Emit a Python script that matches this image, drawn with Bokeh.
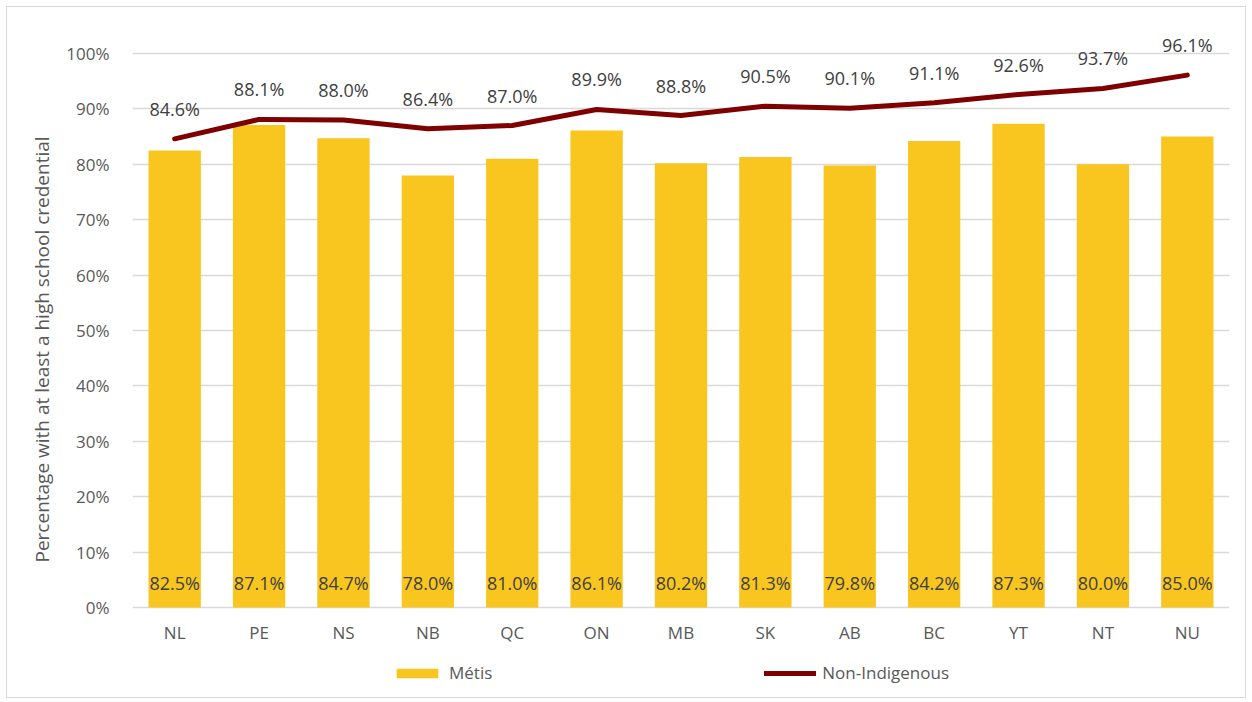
from bokeh.plotting import figure
from bokeh.models import (FactorRange, Range1d, ColumnDataSource, NumeralTickFormatter,
                          FixedTicker, Legend, LegendItem, Title)
from bokeh.core.properties import value
from bokeh.embed import file_html
from bokeh.resources import INLINE

provinces = ["NL", "PE", "NS", "NB", "QC", "ON", "MB", "SK", "AB", "BC", "YT", "NT", "NU"]
metis = [82.5, 87.1, 84.7, 78.0, 81.0, 86.1, 80.2, 81.3, 79.8, 84.2, 87.3, 80.0, 85.0]
non_indigenous = [84.6, 88.1, 88.0, 86.4, 87.0, 89.9, 88.8, 90.5, 90.1, 91.1, 92.6, 93.7, 96.1]
y_ticks = [0, 0.1, 0.2, 0.3, 0.4, 0.5, 0.6, 0.7, 0.8, 0.9, 1.0]
y_title = "Percentage with at least a high school credential"

FONT = "Open Sans"
BAR = "#F9C51F"
LINE = "#7F0000"
TXT = "#595959"
LBL = "#404040"

src = ColumnDataSource(dict(
    prov=provinces,
    m=[v / 100 for v in metis],
    n=[v / 100 for v in non_indigenous],
    m_lbl=[f"{v:.1f}%" for v in metis],
    n_lbl=[f"{v:.1f}%" for v in non_indigenous],
    zero=[0] * len(provinces),
))

p = figure(width=1240, height=692, x_range=FactorRange(*provinces), y_range=Range1d(-0.1625, 1.0596),
           output_backend="svg", toolbar_location=None,
           min_border_left=125, min_border_right=18, min_border_top=13, min_border_bottom=2)
p.styles = {"border": "1px solid #d9d9d9", "box-sizing": "border-box", "margin": "6px"}
p.outline_line_color = None
p.background_fill_color = "white"

bars = p.vbar(x="prov", top="m", width=0.62, source=src, fill_color=BAR, line_color=None)
line = p.line(x="prov", y="n", source=src, line_color=LINE, line_width=5, line_join="round", line_cap="round")

p.text(x="prov", y="n", text="n_lbl", source=src, text_align="center", text_baseline="middle",
       y_offset=-30, text_font=value(FONT), text_font_size="18px", text_color=LBL)
p.text(x="prov", y="zero", text="m_lbl", source=src, text_align="center", text_baseline="middle",
       y_offset=-24, text_font=value(FONT), text_font_size="18px", text_color=LBL)
# category labels under the baseline
p.text(x="prov", y="zero", text="prov", source=src, text_align="center", text_baseline="middle",
       y_offset=25, text_font=value(FONT), text_font_size="17px", text_color=TXT)

p.xaxis.visible = False

p.yaxis.ticker = FixedTicker(ticks=y_ticks)
p.yaxis.formatter = NumeralTickFormatter(format="0%")
p.yaxis.axis_line_color = None
p.yaxis.major_tick_line_color = None
p.yaxis.minor_tick_line_color = None
p.yaxis.major_label_text_font = FONT
p.yaxis.major_label_text_font_size = "17px"
p.yaxis.major_label_text_color = TXT
p.yaxis.major_label_standoff = 17

p.add_layout(Title(text=y_title, align="left", offset=135, standoff=18,
                   text_font=FONT, text_font_size="19px", text_font_style="normal",
                   text_color=TXT), "left")

p.xgrid.grid_line_color = None
p.ygrid.grid_line_color = "#d9d9d9"
p.ygrid.grid_line_width = 1.5
p.ygrid.ticker = FixedTicker(ticks=y_ticks)

legend = Legend(items=[LegendItem(label="Métis", renderers=[bars]),
                       LegendItem(label="Non-Indigenous", renderers=[line])],
                location=(259, 13), orientation="horizontal",
                glyph_width=52, glyph_height=12, label_standoff=6, spacing=272,
                label_text_font=FONT, label_text_font_size="17px", label_text_color=TXT,
                border_line_alpha=0, background_fill_alpha=0, padding=0, margin=0)
p.add_layout(legend, "center")

open("out.html", "w").write(file_html(p, INLINE))
